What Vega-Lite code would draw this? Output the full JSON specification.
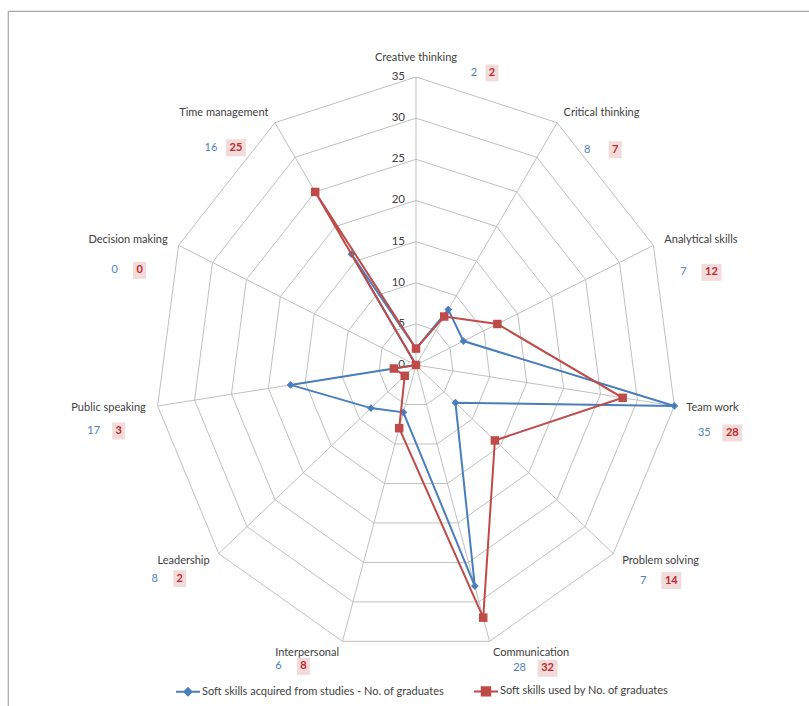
{
  "$schema": "https://vega.github.io/schema/vega-lite/v6.json",
  "width": 801,
  "height": 695,
  "autosize": "none",
  "padding": {"left": 8, "top": 11, "right": 0, "bottom": 0},
  "background": "white",
  "view": {"stroke": "#a6a6a6", "strokeWidth": 1.2, "strokeDash": [801, 1496, 695, 0]},
  "datasets": {
    "skills": [
      {"idx": 0, "skill": "Creative thinking", "acquired": 2, "used": 2},
      {"idx": 1, "skill": "Critical thinking", "acquired": 8, "used": 7},
      {"idx": 2, "skill": "Analytical skills", "acquired": 7, "used": 12},
      {"idx": 3, "skill": "Team work", "acquired": 35, "used": 28},
      {"idx": 4, "skill": "Problem solving", "acquired": 7, "used": 14},
      {"idx": 5, "skill": "Communication", "acquired": 28, "used": 32},
      {"idx": 6, "skill": "Interpersonal", "acquired": 6, "used": 8},
      {"idx": 7, "skill": "Leadership", "acquired": 8, "used": 2},
      {"idx": 8, "skill": "Public speaking", "acquired": 17, "used": 3},
      {"idx": 9, "skill": "Decision making", "acquired": 0, "used": 0},
      {"idx": 10, "skill": "Time management", "acquired": 16, "used": 25}
    ],
    "ticks": [{"t": 0}, {"t": 5}, {"t": 10}, {"t": 15}, {"t": 20}, {"t": 25}, {"t": 30}, {"t": 35}]
  },
  "data": {"name": "skills"},
  "transform": [
    {"calculate": "datum.idx * 2 * PI / 11", "as": "theta"},
    {"calculate": "sin(datum.theta)", "as": "s"},
    {"calculate": "cos(datum.theta)", "as": "c"},
    {"calculate": "35 * datum.s", "as": "vx"},
    {"calculate": "35 * datum.c", "as": "vy"},
    {"calculate": "datum.s * 36.61", "as": "lx"},
    {"calculate": "datum.c * 36.46", "as": "ly"},
    {"calculate": "datum.s > 0.05 ? 'R' : (datum.s < -0.05 ? 'L' : 'T')", "as": "side"},
    {"calculate": "datum.vx + (datum.side == 'R' ? 30 : (datum.side == 'L' ? -64 : 58)) / 7.457", "as": "bx"},
    {"calculate": "datum.vx + (datum.side == 'R' ? 58 : (datum.side == 'L' ? -39 : 76)) / 7.457", "as": "rx"},
    {"calculate": "datum.vy - (datum.side == 'R' ? 27 : (datum.side == 'L' ? 25 : -4)) / 8.229", "as": "ny"}
  ],
  "layer": [
    {
      "transform": [
        {"calculate": "[5, 10, 15, 20, 25, 30, 35]", "as": "lv"},
        {"flatten": ["lv"]},
        {"calculate": "datum.lv * datum.s", "as": "gx"},
        {"calculate": "datum.lv * datum.c", "as": "gy"}
      ],
      "mark": {"type": "line", "interpolate": "linear-closed", "stroke": "#c0c0c0", "strokeWidth": 1},
      "encoding": {
        "x": {"field": "gx", "type": "quantitative", "scale": {"domain": [-54.71, 52.70], "nice": false, "zero": false}, "axis": null},
        "y": {"field": "gy", "type": "quantitative", "scale": {"domain": [-41.44, 43.02], "nice": false, "zero": false}, "axis": null},
        "detail": {"field": "lv", "type": "nominal"},
        "order": {"field": "idx", "type": "quantitative"}
      }
    },
    {
      "mark": {"type": "rule", "stroke": "#c0c0c0", "strokeWidth": 1},
      "encoding": {
        "x": {"field": "vx", "type": "quantitative", "scale": {"domain": [-54.71, 52.70], "nice": false, "zero": false}, "axis": null},
        "y": {"field": "vy", "type": "quantitative", "scale": {"domain": [-41.44, 43.02], "nice": false, "zero": false}, "axis": null},
        "x2": {"datum": 0},
        "y2": {"datum": 0}
      }
    },
    {
      "data": {"name": "ticks"},
      "mark": {"type": "text", "align": "right", "baseline": "middle", "dx": -11, "font": "Lato", "fontSize": 11.5, "color": "#404040"},
      "encoding": {
        "x": {"datum": 0, "type": "quantitative", "scale": {"domain": [-54.71, 52.70], "nice": false, "zero": false}, "axis": null},
        "y": {"field": "t", "type": "quantitative", "scale": {"domain": [-41.44, 43.02], "nice": false, "zero": false}, "axis": null},
        "text": {"field": "t", "type": "quantitative"}
      }
    },
    {
      "transform": [
        {"fold": ["acquired", "used"], "as": ["series", "n"]},
        {"calculate": "datum.n * datum.s", "as": "px"},
        {"calculate": "datum.n * datum.c", "as": "py"}
      ],
      "encoding": {
        "x": {"field": "px", "type": "quantitative", "scale": {"domain": [-54.71, 52.70], "nice": false, "zero": false}, "axis": null},
        "y": {"field": "py", "type": "quantitative", "scale": {"domain": [-41.44, 43.02], "nice": false, "zero": false}, "axis": null},
        "color": {
          "field": "series",
          "type": "nominal",
          "scale": {"domain": ["acquired", "used"], "range": ["#4a7ebb", "#be4b48"]},
          "legend": {
            "orient": "none",
            "legendX": 167,
            "legendY": 667,
            "direction": "horizontal",
            "columns": 2,
            "columnPadding": 26,
            "title": null,
            "padding": 0,
            "labelFont": "Lato",
            "labelFontSize": 11,
            "labelColor": "#404040",
            "labelOffset": 1,
            "labelLimit": 400,
            "symbolSize": 576,
            "symbolStrokeWidth": 2,
            "labelExpr": "datum.value == 'acquired' ? 'Soft skills acquired from studies - No. of graduates' : 'Soft skills used by No. of graduates'",
            "encode": {
              "symbols": {
                "update": {
                  "shape": {"signal": "datum.value == 'acquired' ? 'M-1,0H1M0,-0.3L0.3,0L0,0.3L-0.3,0Z' : 'M-1,0H1M-0.35,-0.35H0.35V0.35H-0.35Z'"},
                  "fill": {"scale": "color", "field": "value"},
                  "stroke": {"scale": "color", "field": "value"},
                  "strokeWidth": {"value": 2},
                  "opacity": {"value": 1}
                }
              }
            }
          }
        },
        "order": {"field": "idx", "type": "quantitative"}
      },
      "layer": [
        {"transform": [{"filter": "datum.series == 'acquired'"}], "mark": {"type": "line", "interpolate": "linear-closed", "strokeWidth": 2}},
        {"transform": [{"filter": "datum.series == 'acquired'"}], "mark": {"type": "point", "shape": "diamond", "filled": true, "opacity": 1, "size": 60}},
        {"transform": [{"filter": "datum.series == 'used'"}], "mark": {"type": "line", "interpolate": "linear-closed", "strokeWidth": 2}},
        {"transform": [{"filter": "datum.series == 'used'"}], "mark": {"type": "point", "shape": "square", "filled": true, "opacity": 1, "size": 72}}
      ]
    },
    {
      "transform": [{"filter": "datum.side == 'R'"}],
      "mark": {"type": "text", "align": "left", "baseline": "middle", "font": "Lato", "fontSize": 11, "color": "#404040"},
      "encoding": {
        "x": {"field": "lx", "type": "quantitative", "scale": {"domain": [-54.71, 52.70], "nice": false, "zero": false}, "axis": null},
        "y": {"field": "ly", "type": "quantitative", "scale": {"domain": [-41.44, 43.02], "nice": false, "zero": false}, "axis": null},
        "text": {"field": "skill", "type": "nominal"}
      }
    },
    {
      "transform": [{"filter": "datum.side == 'L'"}],
      "mark": {"type": "text", "align": "right", "baseline": "middle", "font": "Lato", "fontSize": 11, "color": "#404040"},
      "encoding": {
        "x": {"field": "lx", "type": "quantitative", "scale": {"domain": [-54.71, 52.70], "nice": false, "zero": false}, "axis": null},
        "y": {"field": "ly", "type": "quantitative", "scale": {"domain": [-41.44, 43.02], "nice": false, "zero": false}, "axis": null},
        "text": {"field": "skill", "type": "nominal"}
      }
    },
    {
      "transform": [{"filter": "datum.side == 'T'"}],
      "mark": {"type": "text", "align": "center", "baseline": "bottom", "dy": -2, "font": "Lato", "fontSize": 11, "color": "#404040"},
      "encoding": {
        "x": {"field": "lx", "type": "quantitative", "scale": {"domain": [-54.71, 52.70], "nice": false, "zero": false}, "axis": null},
        "y": {"field": "ly", "type": "quantitative", "scale": {"domain": [-41.44, 43.02], "nice": false, "zero": false}, "axis": null},
        "text": {"field": "skill", "type": "nominal"}
      }
    },
    {
      "mark": {"type": "point", "filled": true, "opacity": 1, "color": "#f2dcdb", "size": 100, "strokeWidth": 0},
      "encoding": {
        "x": {"field": "rx", "type": "quantitative", "scale": {"domain": [-54.71, 52.70], "nice": false, "zero": false}, "axis": null},
        "y": {"field": "ny", "type": "quantitative", "scale": {"domain": [-41.44, 43.02], "nice": false, "zero": false}, "axis": null},
        "shape": {"condition": {"test": "datum.used >= 10", "value": "M-2,-1.7H2V1.7H-2Z"}, "value": "M-1.3,-1.7H1.3V1.7H-1.3Z"}
      }
    },
    {
      "mark": {"type": "text", "align": "center", "baseline": "middle", "font": "Lato", "fontSize": 11, "color": "#4f81bd"},
      "encoding": {
        "x": {"field": "bx", "type": "quantitative", "scale": {"domain": [-54.71, 52.70], "nice": false, "zero": false}, "axis": null},
        "y": {"field": "ny", "type": "quantitative", "scale": {"domain": [-41.44, 43.02], "nice": false, "zero": false}, "axis": null},
        "text": {"field": "acquired", "type": "quantitative"}
      }
    },
    {
      "mark": {"type": "text", "align": "center", "baseline": "middle", "font": "Lato", "fontSize": 11, "fontWeight": "bold", "color": "#c0282d"},
      "encoding": {
        "x": {"field": "rx", "type": "quantitative", "scale": {"domain": [-54.71, 52.70], "nice": false, "zero": false}, "axis": null},
        "y": {"field": "ny", "type": "quantitative", "scale": {"domain": [-41.44, 43.02], "nice": false, "zero": false}, "axis": null},
        "text": {"field": "used", "type": "quantitative"}
      }
    }
  ]
}
